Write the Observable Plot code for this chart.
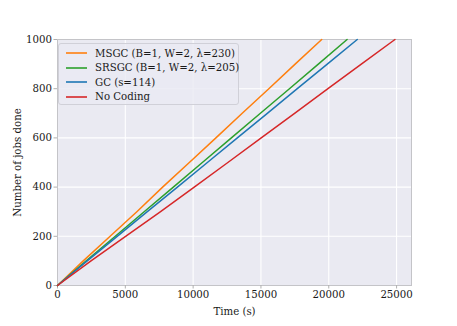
<!DOCTYPE html>
<html>
<head>
<meta charset="utf-8">
<script src="https://cdn.jsdelivr.net/npm/d3@7"></script>
<script src="https://cdn.jsdelivr.net/npm/@observablehq/plot@0.6"></script>
<style>
  html, body { margin: 0; padding: 0; background: #fff; }
  #wrap { position: relative; width: 457px; height: 326px; font-family: "DejaVu Serif", serif; }
  #legend { position: absolute; left: 58px; top: 43px; width: 181px; height: 62px;
    background: rgba(234,234,242,0.8); border: 1px solid #d0d0d8; border-radius: 3px; box-sizing: border-box;
    font-size: 10.2px; color: #1a1a1a; }
  .item { position: absolute; left: 7px; height: 14px; display: flex; align-items: center; white-space: nowrap; }
  .item svg { margin-right: 8px; }
</style>
</head>
<body>
<div id="wrap"><div id="chart"></div><div id="legend"></div></div>
<script>
// Jobs done (y) and time in seconds (x) for each scheme
const jobs = [0, 100, 200, 300, 400, 500, 600, 700, 800, 900, 1000];
const timeMSGC  = [0, 1900, 3880, 5850, 7750, 9720, 11680, 13620, 15580, 17520, 19480];
const timeSRSGC = [0, 2120, 4260, 6390, 8540, 10680, 12820, 14960, 17100, 19230, 21350];
const timeGC    = [0, 2190, 4400, 6620, 8840, 11050, 13260, 15470, 17680, 19890, 22100];
const timeNoCoding = [0, 2470, 5020, 7600, 10080, 12560, 15020, 17480, 19940, 22400, 24880];

const seriesNames = ["MSGC (B=1, W=2, λ=230)", "SRSGC (B=1, W=2, λ=205)", "GC (s=114)", "No Coding"];
const seriesTimes = [timeMSGC, timeSRSGC, timeGC, timeNoCoding];
const seriesColors = ["#ff7f0e", "#2ca02c", "#1f77b4", "#d62728"];
const xTicks = [0, 5000, 10000, 15000, 20000, 25000];
const yTicks = [0, 200, 400, 600, 800, 1000];

const data = seriesNames.flatMap((name, i) => jobs.map((j, k) => ({name, t: seriesTimes[i][k], jobs: j})));

const chart = Plot.plot({
  width: 457, height: 326,
  marginLeft: 57, marginRight: 46, marginTop: 39, marginBottom: 41,
  style: {fontFamily: "DejaVu Serif, serif", fontSize: "10.2px", color: "#1a1a1a", background: "#fff"},
  x: {domain: [0, 26100]},
  y: {domain: [0, 1000]},
  color: {domain: seriesNames, range: seriesColors},
  marks: [
    Plot.frame({fill: "#eaeaf2"}),
    Plot.gridX(xTicks, {stroke: "#fff", strokeOpacity: 1, strokeWidth: 1.1}),
    Plot.gridY(yTicks, {stroke: "#fff", strokeOpacity: 1, strokeWidth: 1.1}),
    Plot.frame({stroke: "#c4c4c8", strokeWidth: 1}),
    Plot.axisX(xTicks, {tickSize: 3.5, tickPadding: 2, stroke: "#b0b0b0", tickFormat: d3.format("d"),
      label: "Time (s)", labelAnchor: "center", labelArrow: "none", labelOffset: 29, fontSize: 10.2}),
    Plot.axisY(yTicks, {tickSize: 3.5, tickPadding: 2, stroke: "#b0b0b0", tickFormat: d3.format("d"),
      label: "Number of jobs done", labelAnchor: "center", labelArrow: "none", labelOffset: 44, fontSize: 10.2}),
    Plot.line(data, {x: "t", y: "jobs", z: "name", stroke: "name", strokeWidth: 1.5})
  ]
});
document.getElementById("chart").appendChild(chart);

const legend = document.getElementById("legend");
seriesNames.forEach((name, i) => {
  const d = document.createElement("div");
  d.className = "item";
  d.style.top = (2 + i * 14.5) + "px";
  d.innerHTML = `<svg width="21" height="4"><line x1="0" y1="2" x2="21" y2="2" stroke="${seriesColors[i]}" stroke-width="1.6"/></svg><span>${name}</span>`;
  legend.appendChild(d);
});
</script>
</body>
</html>
